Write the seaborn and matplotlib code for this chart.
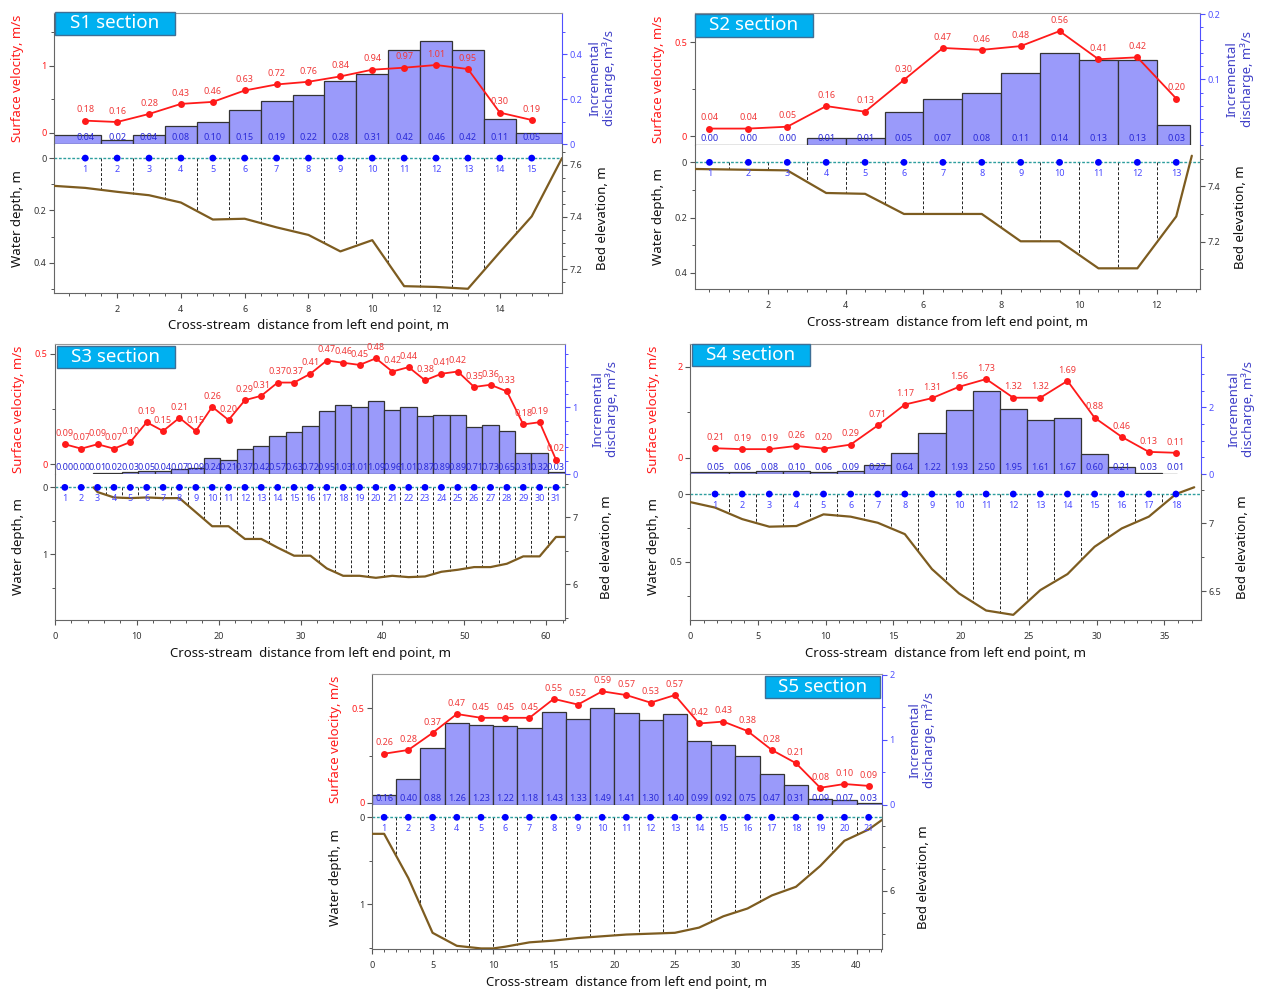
import numpy as np
import matplotlib
matplotlib.use("Agg")
import matplotlib.pyplot as plt
import seaborn as sns
from matplotlib.ticker import MultipleLocator, FixedLocator, FormatStrFormatter
from matplotlib.transforms import blended_transform_factory
from matplotlib.patches import Rectangle

sns.set_style("ticks")
plt.rcParams["font.family"] = ["Noto Sans", "DejaVu Sans"]

# ---------------- S1 ----------------
S1_station = [1, 2, 3, 4, 5, 6, 7, 8, 9, 10, 11, 12, 13, 14, 15]
S1_velocity = [0.18, 0.16, 0.28, 0.43, 0.46, 0.63, 0.72, 0.76, 0.84, 0.94, 0.97, 1.01, 0.95, 0.30, 0.19]
S1_discharge = [0.04, 0.02, 0.04, 0.08, 0.10, 0.15, 0.19, 0.22, 0.28, 0.31, 0.42, 0.46, 0.42, 0.11, 0.05]
S1_bed_x = [0.0, 1.0, 2.0, 3.0, 4.0, 5.0, 6.0, 7.0, 8.0, 9.0, 10.0, 11.0, 12.0, 13.0, 14.0, 15.0, 15.95]
S1_bed_depth = [0.106, 0.114, 0.129, 0.142, 0.170, 0.235, 0.232, 0.265, 0.294, 0.357, 0.314,
                0.490, 0.493, 0.500, 0.360, 0.223, 0.0]
S1_water_edges = (0.0, 15.95)
S1_surface_elevation = 7.625

# ---------------- S2 ----------------
S2_station = [0.5, 1.5, 2.5, 3.5, 4.5, 5.5, 6.5, 7.5, 8.5, 9.5, 10.5, 11.5, 12.5]
S2_velocity = [0.04, 0.04, 0.05, 0.16, 0.13, 0.30, 0.47, 0.46, 0.48, 0.56, 0.41, 0.42, 0.20]
S2_discharge = [0.00, 0.00, 0.00, 0.01, 0.01, 0.05, 0.07, 0.08, 0.11, 0.14, 0.13, 0.13, 0.03]
S2_bed_x = [0.12, 2.5, 3.5, 4.5, 5.5, 7.5, 8.5, 9.5, 10.5, 11.5, 12.5, 12.9]
S2_bed_depth = [0.024, 0.029, 0.111, 0.114, 0.187, 0.187, 0.286, 0.286, 0.384, 0.384, 0.196, -0.024]
S2_water_edges = (0.12, 12.85)
S2_surface_elevation = 7.487

# ---------------- S3 ----------------
S3_station = [1.2, 3.2, 5.2, 7.2, 9.2, 11.2, 13.2, 15.2, 17.2, 19.2, 21.2, 23.2, 25.2, 27.2, 29.2, 31.2,
              33.2, 35.2, 37.2, 39.2, 41.2, 43.2, 45.2, 47.2, 49.2, 51.2, 53.2, 55.2, 57.2, 59.2, 61.2]
S3_velocity = [0.09, 0.07, 0.09, 0.07, 0.10, 0.19, 0.15, 0.21, 0.15, 0.26, 0.20, 0.29, 0.31, 0.37, 0.37, 0.41,
               0.47, 0.46, 0.45, 0.48, 0.42, 0.44, 0.38, 0.41, 0.42, 0.35, 0.36, 0.33, 0.18, 0.19, 0.02]
S3_discharge = [0.00, 0.00, 0.01, 0.02, 0.03, 0.05, 0.04, 0.07, 0.09, 0.24, 0.21, 0.37, 0.42, 0.57, 0.63, 0.72,
                0.95, 1.03, 1.01, 1.09, 0.96, 1.01, 0.87, 0.89, 0.89, 0.71, 0.73, 0.65, 0.31, 0.32, 0.03]
S3_bed_x = [4.7, 5.2, 7.2, 9.2, 11.2, 13.2, 15.2, 17.2, 19.2, 21.2, 23.2, 25.2, 27.2, 29.2, 31.2, 33.2,
            35.2, 37.2, 39.2, 41.2, 43.2, 45.2, 47.2, 49.2, 51.2, 53.2, 55.2, 57.2, 59.2, 61.2, 62.3]
S3_bed_depth = [0.0, 0.07, 0.15, 0.16, 0.15, 0.16, 0.16, 0.37, 0.58, 0.58, 0.77, 0.77, 0.90, 1.02, 1.02, 1.21,
                1.32, 1.32, 1.35, 1.32, 1.34, 1.33, 1.26, 1.23, 1.19, 1.19, 1.14, 1.03, 1.03, 0.74, 0.74]
S3_water_edges = (4.7, 62.3)
S3_surface_elevation = 7.448

# ---------------- S4 ----------------
S4_station = [1.85, 3.85, 5.85, 7.85, 9.85, 11.85, 13.85, 15.85, 17.85, 19.85, 21.85, 23.85, 25.85,
              27.85, 29.85, 31.85, 33.85, 35.85]
S4_velocity = [0.21, 0.19, 0.19, 0.26, 0.20, 0.29, 0.71, 1.17, 1.31, 1.56, 1.73, 1.32, 1.32, 1.69, 0.88,
               0.46, 0.13, 0.11]
S4_discharge = [0.05, 0.06, 0.08, 0.10, 0.06, 0.09, 0.27, 0.64, 1.22, 1.93, 2.50, 1.95, 1.61, 1.67, 0.60,
                0.21, 0.03, 0.01]
S4_bed_x = [0.0, 1.85, 3.85, 5.85, 7.85, 9.85, 11.85, 13.85, 15.85, 17.85, 19.85, 21.85, 23.85, 25.85,
            27.85, 29.85, 31.85, 33.85, 35.85, 37.2]
S4_bed_depth = [0.059, 0.10, 0.185, 0.241, 0.236, 0.15, 0.167, 0.212, 0.296, 0.554, 0.734, 0.86, 0.892,
                0.709, 0.591, 0.389, 0.254, 0.167, 0.0, -0.05]
S4_water_edges = (0.0, 35.9)
S4_surface_elevation = 7.217

# ---------------- S5 ----------------
S5_station = [1, 3, 5, 7, 9, 11, 13, 15, 17, 19, 21, 23, 25, 27, 29, 31, 33, 35, 37, 39, 41]
S5_velocity = [0.26, 0.28, 0.37, 0.47, 0.45, 0.45, 0.45, 0.55, 0.52, 0.59, 0.57, 0.53, 0.57, 0.42, 0.43,
               0.38, 0.28, 0.21, 0.08, 0.10, 0.09]
S5_discharge = [0.16, 0.40, 0.88, 1.26, 1.23, 1.22, 1.18, 1.43, 1.33, 1.49, 1.41, 1.30, 1.40, 0.99, 0.92,
                0.75, 0.47, 0.31, 0.09, 0.07, 0.03]
S5_bed_x = [0.0, 1.0, 3.0, 5.0, 7.0, 9.0, 10.0, 11.0, 13.0, 15.0, 17.0, 19.0, 21.0, 23.0, 25.0, 27.0,
            29.0, 31.0, 33.0, 35.0, 37.0, 39.0, 41.0, 42.1]
S5_bed_depth = [0.19, 0.19, 0.70, 1.33, 1.48, 1.51, 1.51, 1.49, 1.44, 1.42, 1.39, 1.37, 1.35, 1.34, 1.33,
                1.27, 1.14, 1.05, 0.90, 0.80, 0.56, 0.27, 0.14, 0.03]
S5_water_edges = (0.0, 42.1)
S5_surface_elevation = 6.847

# ---------------- styling ----------------
RED = "#ff1a1a"
RED_TXT = "#f03a3a"
BLUE_AX = "#5050ff"
BLUE_LBL = "#4040c8"
BLUE_TXT = "#2a2ad8"
BAR_FC = "#9a9afa"
BAR_EC = "#333333"
BED = "#7d5c20"
WATER = "#2f9f9f"
GRAY = "#555555"
TICK_FS = 6.5
VAL_FS = 6.5

W, H = 1269, 993
fig = plt.figure(figsize=(W / 100, H / 100), dpi=100)


def frac_rect(left, top, right, bottom):
    return [left / W, 1 - bottom / H, (right - left) / W, (bottom - top) / H]


def fx(x):
    return x / W


def fy(y):
    return 1 - y / H


def bar_edges(stations, left_edge, right_edge):
    st = np.asarray(stations, float)
    mids = (st[:-1] + st[1:]) / 2
    edges = np.concatenate([[left_edge], mids, [right_edge]])
    return np.clip(edges, left_edge, right_edge)


def style_ticks(ax, axis, major, minor, color, labelcolor, fixed=None, pad=2):
    a = ax.yaxis if axis == "y" else ax.xaxis
    if fixed is not None:
        a.set_major_locator(FixedLocator(fixed))
    else:
        a.set_major_locator(MultipleLocator(major))
    a.set_minor_locator(MultipleLocator(minor))
    a.set_major_formatter(FormatStrFormatter("%g"))
    ax.tick_params(axis=axis, which="major", length=3.5, width=0.8, color=color,
                   labelcolor=labelcolor, labelsize=TICK_FS, direction="out", pad=pad)
    ax.tick_params(axis=axis, which="minor", length=2, width=0.7, color=color, direction="out")


def draw_section(s):
    L, T1, B1, B2, R = s["frame"]
    stations = np.asarray(s["stations"], float)
    velocity = np.asarray(s["velocity"], float)
    discharge = np.asarray(s["discharge"], float)
    edges = bar_edges(stations, *s["edges"])

    # ---- top panel: surface velocity and incremental discharge ----
    ax_v = fig.add_axes(frac_rect(L, T1, R, B1))
    ax_q = ax_v.twinx()
    ax_v.set_zorder(ax_q.get_zorder() + 1)
    ax_v.patch.set_visible(False)

    widths = np.diff(edges)
    keep = widths > 0
    ax_q.bar(edges[:-1][keep], discharge[keep], width=widths[keep], align="edge",
             color=BAR_FC, edgecolor=BAR_EC, linewidth=0.9)
    tq = blended_transform_factory(ax_q.transData, ax_q.transAxes)
    for x, q in zip(stations, discharge):
        ax_q.text(x, 0.05, f"{q:.2f}", transform=tq, ha="center", va="center",
                  fontsize=VAL_FS, color=BLUE_TXT)

    sns.lineplot(x=stations, y=velocity, ax=ax_v, color=RED, marker="o", markersize=5,
                 markeredgewidth=0, linewidth=1.3, estimator=None)
    for x, v in zip(stations, velocity):
        ax_v.annotate(f"{v:.2f}", (x, v), xytext=(0, 4.5), textcoords="offset points",
                      ha="center", va="bottom", fontsize=VAL_FS, color=RED_TXT)

    ax_v.set_xlim(*s["xlim"])
    ax_v.set_ylim(*s["vlim"])
    ax_q.set_ylim(*s["qlim"])
    ax_v.set_xlabel("")
    ax_v.set_ylabel("")
    ax_v.tick_params(axis="x", which="both", bottom=False, labelbottom=False)
    ax_q.tick_params(axis="x", which="both", bottom=False, labelbottom=False)
    style_ticks(ax_v, "y", s["vtick"][0], s["vtick"][1], GRAY, RED)
    style_ticks(ax_q, "y", s["qtick"][0], s["qtick"][1], BLUE_AX, BLUE_AX, s.get("qfixed"))
    for name, sp in ax_v.spines.items():
        sp.set_visible(name in ("left", "top"))
        sp.set_color("#666666")
        sp.set_linewidth(0.8)
    ax_v.spines["top"].set_color("#999999")
    for name, sp in ax_q.spines.items():
        sp.set_visible(name == "right")
    ax_q.spines["right"].set_color(BLUE_AX)
    ax_q.spines["right"].set_linewidth(0.8)

    # ---- bottom panel: water depth and bed profile ----
    ax_d = fig.add_axes(frac_rect(L, B1, R, B2))
    ax_e = ax_d.twinx()
    ax_d.axhline(0, color=WATER, linestyle=(0, (2, 1.2)), linewidth=1.0, zorder=2)
    bed_x = np.asarray(s["bed_x"], float)
    bed_d = np.asarray(s["bed_depth"], float)
    inner = edges[1:-1]
    inner = inner[(inner > s["edges"][0]) & (inner < s["edges"][1])]
    depth_at = np.interp(inner, bed_x, bed_d)
    ok = depth_at > 0
    ax_d.vlines(inner[ok], 0, depth_at[ok], colors="#222222", linestyles=(0, (3, 2)),
                linewidth=0.7, zorder=1)
    sns.lineplot(x=bed_x, y=bed_d, ax=ax_d, color=BED, linewidth=1.6, estimator=None,
                 sort=False, zorder=3)
    sns.scatterplot(x=stations, y=np.zeros_like(stations), ax=ax_d, color="#0000ff", s=24,
                    edgecolor="none", zorder=5)
    for i, x in enumerate(stations):
        ax_d.annotate(str(i + 1), (x, 0), xytext=(0, -5), textcoords="offset points",
                      ha="center", va="top", fontsize=VAL_FS, color="#4848ff")
    ax_d.set_xlim(*s["xlim"])
    ax_d.set_ylim(*s["dlim"])
    wse = s["wse"]
    ax_e.set_ylim(wse - s["dlim"][0], wse - s["dlim"][1])
    ax_d.set_xlabel("")
    ax_d.set_ylabel("")
    style_ticks(ax_d, "x", s["xtick"][0], s["xtick"][1], GRAY, "#333333", pad=5)
    style_ticks(ax_d, "y", s["dtick"][0], s["dtick"][1], GRAY, "#333333")
    style_ticks(ax_e, "y", s["etick"][0], s["etick"][1], GRAY, "#333333")
    for name, sp in ax_d.spines.items():
        sp.set_visible(name in ("left", "bottom"))
        sp.set_color("#666666")
        sp.set_linewidth(0.8)
    for name, sp in ax_e.spines.items():
        sp.set_visible(name == "right")
    ax_e.spines["right"].set_color("#666666")
    ax_e.spines["right"].set_linewidth(0.8)

    # ---- axis titles ----
    top_mid = (T1 + B1) / 2
    bot_mid = (B1 + B2) / 2
    fig.text(fx(L - 36), fy(top_mid), "Surface velocity, m/s", rotation=90, ha="center",
             va="center", color=RED, fontsize=9.5)
    fig.text(fx(L - 36), fy(bot_mid), "Water depth, m", rotation=90, ha="center",
             va="center", color="#111111", fontsize=9.5)
    fig.text(fx(R + 40), fy(top_mid), "Incremental\ndischarge, m³/s", rotation=90,
             ha="center", va="center", color=BLUE_LBL, fontsize=9.5, linespacing=1.1)
    fig.text(fx(R + 41), fy(bot_mid), "Bed elevation, m", rotation=90, ha="center",
             va="center", color="#111111", fontsize=9.5)
    fig.text(fx((L + R) / 2), fy(B2 + 33), "Cross-stream  distance from left end point, m",
             ha="center", va="center", color="#111111", fontsize=9.5)

    # ---- section tag ----
    bx0, by0, bx1, by1 = s["tag"]
    fig.add_artist(Rectangle((fx(bx0), fy(by1)), fx(bx1 - bx0), (by1 - by0) / H,
                             transform=fig.transFigure, facecolor="#00b0f0",
                             edgecolor="#3d6f96", linewidth=1.0, zorder=10))
    fig.text(fx((bx0 + bx1) / 2), fy((by0 + by1) / 2), s["name"], ha="center",
             va="center", color="white", fontsize=13.5, zorder=11)


SECTIONS = [
    dict(name="S1 section", stations=S1_station, velocity=S1_velocity, discharge=S1_discharge,
         bed_x=S1_bed_x, bed_depth=S1_bed_depth, edges=S1_water_edges, wse=S1_surface_elevation,
         frame=(54, 12.7, 144, 292.7, 562), xlim=(0.02, 15.95), xtick=(2, 0.5),
         vlim=(-0.168, 1.79), vtick=(1, 0.5), qlim=(0, 0.584), qtick=(0.2, 0.1),
         dlim=(0.515, -0.054), dtick=(0.2, 0.1), etick=(0.2, 0.05), tag=(55, 12, 175, 35)),
    dict(name="S2 section", stations=S2_station, velocity=S2_velocity, discharge=S2_discharge,
         bed_x=S2_bed_x, bed_depth=S2_bed_depth, edges=S2_water_edges, wse=S2_surface_elevation,
         frame=(694.7, 13.3, 144.7, 289.3, 1199.6), xlim=(0.12, 13.1), xtick=(2, 0.5),
         vlim=(-0.046, 0.655), vtick=(0.5, 0.25), qlim=(0, 0.2015), qtick=(0.1, 0.02),
         qfixed=[0.1, 0.2],
         dlim=(0.46, -0.064), dtick=(0.2, 0.1), etick=(0.2, 0.1), tag=(695, 14, 813, 37)),
    dict(name="S3 section", stations=S3_station, velocity=S3_velocity, discharge=S3_discharge,
         bed_x=S3_bed_x, bed_depth=S3_bed_depth, edges=S3_water_edges, wse=S3_surface_elevation,
         frame=(55, 344, 474, 620, 565), xlim=(0, 62.3), xtick=(10, 2),
         vlim=(-0.045, 0.545), vtick=(0.5, 0.25), qlim=(0, 1.95), qtick=(1, 0.2),
         dlim=(1.98, -0.2), dtick=(1, 0.5), etick=(1, 0.5), tag=(57, 346, 175, 368)),
    dict(name="S4 section", stations=S4_station, velocity=S4_velocity, discharge=S4_discharge,
         bed_x=S4_bed_x, bed_depth=S4_bed_depth, edges=S4_water_edges, wse=S4_surface_elevation,
         frame=(690, 344, 474, 620, 1201), xlim=(0, 37.7), xtick=(5, 1),
         vlim=(-0.356, 2.5), vtick=(2, 1), qlim=(0, 3.9), qtick=(2, 0.5),
         dlim=(0.93, -0.148), dtick=(0.5, 0.25), etick=(0.5, 0.25), tag=(692, 344, 810, 366)),
    dict(name="S5 section", stations=S5_station, velocity=S5_velocity, discharge=S5_discharge,
         bed_x=S5_bed_x, bed_depth=S5_bed_depth, edges=S5_water_edges, wse=S5_surface_elevation,
         frame=(372, 674.3, 805, 949.3, 882), xlim=(0, 42.1), xtick=(5, 1),
         vlim=(-0.011, 0.68), vtick=(0.5, 0.25), qlim=(0, 2.01), qtick=(1, 0.5),
         dlim=(1.52, -0.142), dtick=(1, 0.5), etick=(1, 0.25), tag=(765, 676, 880, 698)),
]

for sec in SECTIONS:
    draw_section(sec)

fig.savefig("out.png", dpi=100, facecolor="white")
